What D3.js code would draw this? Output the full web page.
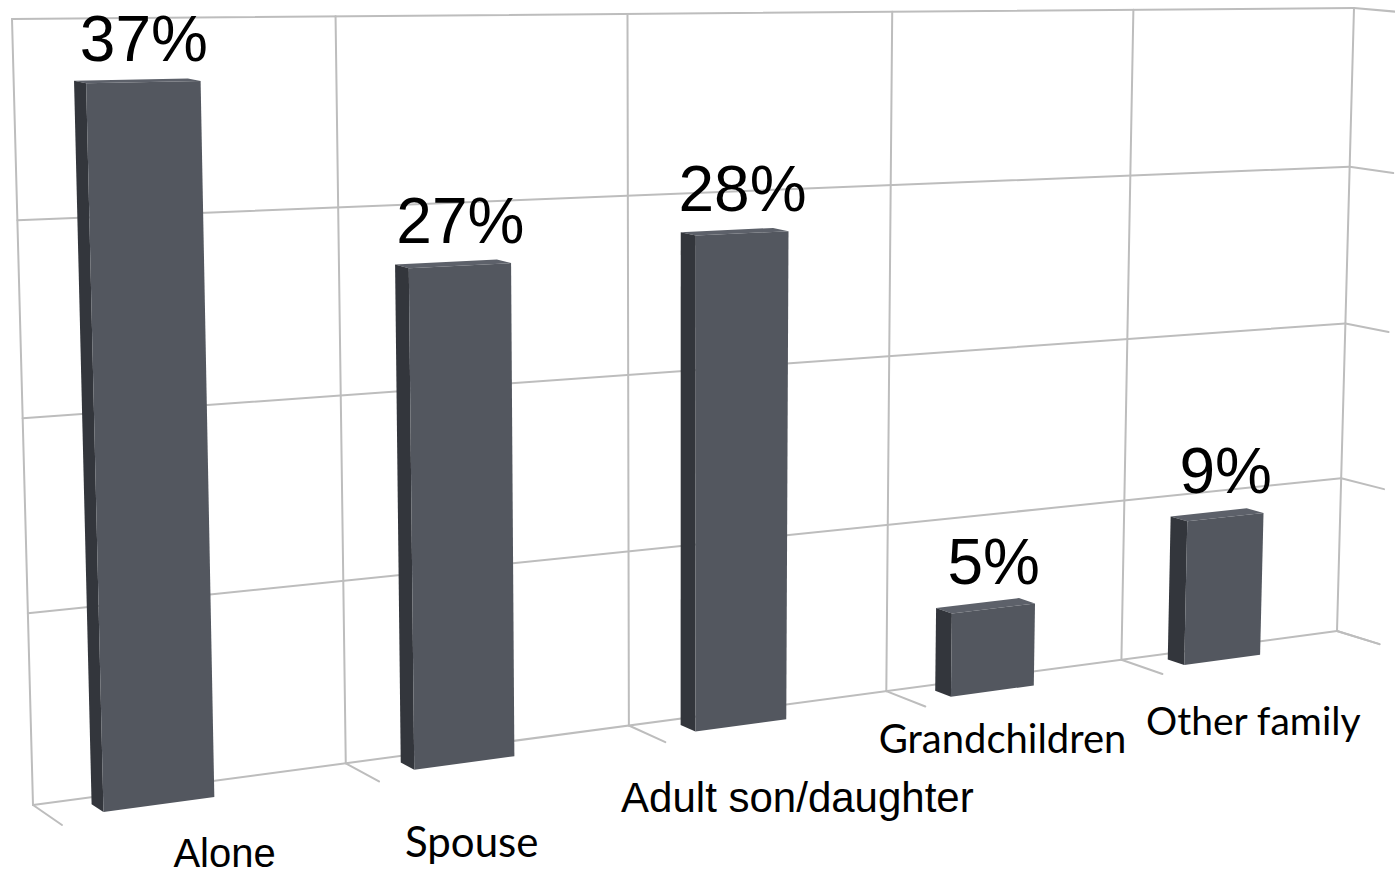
<!DOCTYPE html>
<html>
<head>
<meta charset="utf-8">
<script src="https://cdn.jsdelivr.net/npm/d3@7"></script>
<style>
  html, body { margin: 0; padding: 0; background: #ffffff; }
  svg { display: block; }
</style>
</head>
<body>
<svg id="chart" width="1395" height="877"></svg>
<script>
// Living arrangement shares (percent)
const categories = ["Alone", "Spouse", "Adult son/daughter", "Grandchildren", "Other family"];
const values = [37, 27, 28, 5, 9];
const valueLabels = ["37%", "27%", "28%", "5%", "9%"];
const valueTicks = [0, 10, 20, 30, 40];

// Category label typography / placement (relative to the front floor point under each bar slot)
const labelFonts = ["'Liberation Sans', Arial, sans-serif", "Lato, sans-serif",
  "'Liberation Sans', Arial, sans-serif", "Lato, sans-serif", "Lato, sans-serif"];
const labelSizes = [40, 42, 42, 40, 39];
const labelShift = [[0, 64], [-54, 96], [-1, 88], [-44, 63], [-20, 76]];

const svg = d3.select("#chart");

// ---- perspective projection -------------------------------------------
// Back wall corners in screen space: (u,v) unit square -> quad.
const wall = { bl: [33, 805], br: [1337, 631], tr: [1354, 8], tl: [12, 19] };
// Vanishing point of the depth direction and depth strength.
const vanish = [-1486, -243];
const depthK = -0.01873;

function squareToQuad(q) {
  const [x0, y0] = q.bl, [x1, y1] = q.br, [x2, y2] = q.tr, [x3, y3] = q.tl;
  const dx1 = x1 - x2, dx2 = x3 - x2, dx3 = x0 - x1 + x2 - x3;
  const dy1 = y1 - y2, dy2 = y3 - y2, dy3 = y0 - y1 + y2 - y3;
  const den = dx1 * dy2 - dx2 * dy1;
  const g = (dx3 * dy2 - dx2 * dy3) / den;
  const h = (dx1 * dy3 - dx3 * dy1) / den;
  return {
    a: x1 - x0 + g * x1, b: x3 - x0 + h * x3, c: x0,
    d: y1 - y0 + g * y1, e: y3 - y0 + h * y3, f: y0,
    g, h
  };
}
const M = squareToQuad(wall);

// u: along categories (0..1), v: value height (0..1), w: depth toward viewer (0..1)
function project(u, v, w) {
  const X = M.a * u + M.b * v + M.c + depthK * vanish[0] * w;
  const Y = M.d * u + M.e * v + M.f + depthK * vanish[1] * w;
  const Z = M.g * u + M.h * v + 1 + depthK * w;
  return [X / Z, Y / Z];
}

// ---- scales -------------------------------------------------------------
const yScale = d3.scaleLinear().domain([0, 40]).range([0, 1]);
const xBand = d3.scaleBand().domain(categories)
  .range([-0.035, 0.965]).paddingInner(0.655).paddingOuter(0.3275);
const cellEdges = d3.range(categories.length + 1).map(i => i / categories.length);
const barDepth = [0.3, 0.7];

const line = d3.line();
const poly = pts => line(pts) + "Z";

// ---- grid: back wall, right side wall, floor lines -----------------------
const grid = svg.append("g")
  .attr("fill", "none").attr("stroke", "#bdbdbd").attr("stroke-width", 2)
  .attr("stroke-linecap", "round");

// horizontal value gridlines on the back wall
grid.selectAll("path.hwall").data(valueTicks).join("path")
  .attr("class", "hwall")
  .attr("d", t => line([project(0, yScale(t), 0), project(1, yScale(t), 0)]));

// vertical category dividers on the back wall
grid.selectAll("path.vwall").data(cellEdges).join("path")
  .attr("class", "vwall")
  .attr("d", u => line([project(u, 0, 0), project(u, 1, 0)]));

// value gridlines running along the right side wall
grid.selectAll("path.side").data(valueTicks).join("path")
  .attr("class", "side")
  .attr("d", t => line([project(1, yScale(t), 0), project(1, yScale(t), 1)]));

// floor lines running toward the viewer
grid.selectAll("path.floor").data(cellEdges).join("path")
  .attr("class", "floor")
  .attr("d", u => line([project(u, 0, 0), project(u, 0, 1)]));

// ---- bars ---------------------------------------------------------------
const bars = svg.append("g").selectAll("g.bar")
  .data(categories.map((c, i) => ({ c, v: values[i], label: valueLabels[i] })))
  .join("g").attr("class", "bar");

function box(d) {
  const u0 = xBand(d.c), u1 = u0 + xBand.bandwidth();
  const v0 = yScale(0), v1 = yScale(d.v);
  const [w0, w1] = barDepth;
  return { u0, u1, v0, v1, w0, w1 };
}

bars.append("path") // top face
  .attr("fill", "#5d616a")
  .attr("d", d => { const b = box(d); return poly([
    project(b.u0, b.v1, b.w0), project(b.u1, b.v1, b.w0),
    project(b.u1, b.v1, b.w1), project(b.u0, b.v1, b.w1)]); });

bars.append("path") // left side face
  .attr("fill", "#33363c")
  .attr("d", d => { const b = box(d); return poly([
    project(b.u0, b.v0, b.w0), project(b.u0, b.v1, b.w0),
    project(b.u0, b.v1, b.w1), project(b.u0, b.v0, b.w1)]); });

bars.append("path") // front face
  .attr("fill", "#53575f")
  .attr("d", d => { const b = box(d); return poly([
    project(b.u0, b.v0, b.w1), project(b.u1, b.v0, b.w1),
    project(b.u1, b.v1, b.w1), project(b.u0, b.v1, b.w1)]); });

// value labels above each bar
bars.append("text")
  .attr("font-family", "'Liberation Sans', Arial, sans-serif")
  .attr("font-size", 64)
  .attr("fill", "#000")
  .attr("text-anchor", "middle")
  .attr("x", d => { const b = box(d); return project((b.u0 + b.u1) / 2, b.v1, b.w1)[0]; })
  .attr("y", d => { const b = box(d); return project((b.u0 + b.u1) / 2, b.v1, b.w0)[1] - 19; })
  .text(d => d.label);

// ---- category labels ----------------------------------------------------
svg.append("g").selectAll("text")
  .data(categories)
  .join("text")
  .attr("font-family", (d, i) => labelFonts[i])
  .attr("font-size", (d, i) => labelSizes[i])
  .attr("fill", "#000")
  .attr("text-anchor", "middle")
  .attr("x", (d, i) => project((i + 0.5) / categories.length, 0, 1)[0] + labelShift[i][0])
  .attr("y", (d, i) => project((i + 0.5) / categories.length, 0, 1)[1] + labelShift[i][1])
  .text(d => d);
</script>
</body>
</html>
